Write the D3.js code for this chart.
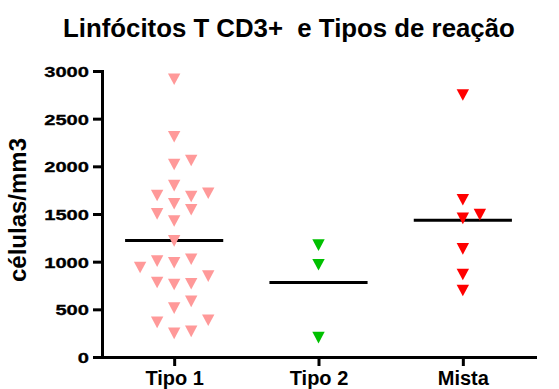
<!DOCTYPE html>
<html lang="en">
<head>
  <meta charset="UTF-8">
  <title>Linfócitos T CD3+ e Tipos de reação</title>
  <script src="https://d3js.org/d3.v7.min.js"></script>
  <style>
    body { margin: 0; background: #fff; }
  </style>
</head>
<body>
  <script>
    // Data (células/mm3)
    const categories = ["Tipo 1", "Tipo 2", "Mista"];
    const tipo1 = [2914, 2311, 2019, 1798, 1608, 1427, 1218, 988, 761, 513, 248,
                   2061, 1684, 1545, 1025, 768, 269,
                   1694, 1501, 1006, 782, 583, 363,
                   1718, 848, 386, 939];
    const tipo2 = [1174, 967, 203];
    const mista = [2749, 1650, 1454, 1134, 698, 1493, 865];
    const yTicks = [0, 500, 1000, 1500, 2000, 2500, 3000];
    const colors = ["#ff9999", "#00c000", "#ff0000"];

    const width = 559;
    const height = 389;
    const font = "'Liberation Sans', Arial, sans-serif";

    const svg = d3.select("body")
      .append("svg")
      .attr("width", width)
      .attr("height", height);

    // Scales
    const x = d3.scalePoint()
      .domain(categories)
      .range([102, 535])
      .padding(0.5);

    const y = d3.scaleLinear()
      .domain([0, 3000])
      .range([357, 71]);

    // Title (keep the double space before "e")
    svg.append("text")
      .attr("x", 63)
      .attr("y", 37)
      .attr("font-family", font)
      .attr("font-weight", "bold")
      .attr("font-size", 25.8)
      .style("white-space", "pre")
      .text("Linfócitos T CD3+  e Tipos de reação");

    // Y axis label
    svg.append("text")
      .attr("transform", "translate(26,210) rotate(-90)")
      .attr("text-anchor", "middle")
      .attr("font-family", font)
      .attr("font-weight", "bold")
      .attr("font-size", 24)
      .text("células/mm3");

    // Y axis
    svg.append("g")
      .attr("transform", "translate(102,0)")
      .call(d3.axisLeft(y).tickValues(yTicks).tickSizeInner(9).tickSizeOuter(0).tickFormat(d3.format("d")))
      .call(g => {
        g.attr("font-family", font).attr("font-size", 15.5).attr("font-weight", "bold");
        g.select(".domain").attr("stroke-width", 3).attr("stroke-linecap", "square");
        g.selectAll(".tick line").attr("stroke-width", 3);
        g.selectAll(".tick text")
          .attr("x", -13 / 1.3)
          .attr("dy", "0.36em")
          .attr("stroke", "currentColor")
          .attr("stroke-width", 0.3)
          .attr("transform", "scale(1.3,1)");
      });

    // X axis
    svg.append("g")
      .attr("transform", "translate(0,357)")
      .call(d3.axisBottom(x).tickSizeInner(9).tickSizeOuter(0))
      .call(g => {
        g.attr("font-family", font).attr("font-size", 20).attr("font-weight", "bold");
        g.select(".domain").attr("stroke-width", 3).attr("stroke-linecap", "square");
        g.selectAll(".tick line").attr("stroke-width", 3);
        g.selectAll(".tick text").attr("y", 28).attr("dy", null);
      });

    // Column scatter: put each point in the nearest free slot (0, +1, -1, +2, -2)
    const slotOrder = [0, 1, -1, 2, -2, 3, -3];
    const minGap = 12.8;
    const slotWidth = x.step() * 0.118;

    function spread(values) {
      const placed = [];
      return values.map(v => {
        const slot = slotOrder.find(s =>
          !placed.some(p => p.slot === s && Math.abs(y(p.value) - y(v)) < minGap));
        placed.push({ value: v, slot: slot });
        return { value: v, slot: slot };
      });
    }

    const groups = [tipo1, tipo2, mista].map((values, i) => ({
      category: categories[i],
      color: colors[i],
      mean: d3.mean(values),
      points: spread(values)
    }));

    // Mean lines
    const halfLine = x.step() * 0.34;
    svg.selectAll(".mean")
      .data(groups)
      .enter()
      .append("line")
      .attr("class", "mean")
      .attr("x1", d => x(d.category) - halfLine)
      .attr("x2", d => x(d.category) + halfLine)
      .attr("y1", d => y(d.mean))
      .attr("y2", d => y(d.mean))
      .attr("stroke", "black")
      .attr("stroke-width", 3);

    // Down-pointing triangles
    const tri = d3.line()([[-6.2, -5.8], [6.2, -5.8], [0, 5.8]]) + "Z";

    groups.forEach(g => {
      svg.append("g")
        .selectAll("path")
        .data(g.points)
        .enter()
        .append("path")
        .attr("d", tri)
        .attr("transform", d => `translate(${x(g.category) + d.slot * slotWidth},${y(d.value)})`)
        .attr("fill", g.color);
    });
  </script>
</body>
</html>
